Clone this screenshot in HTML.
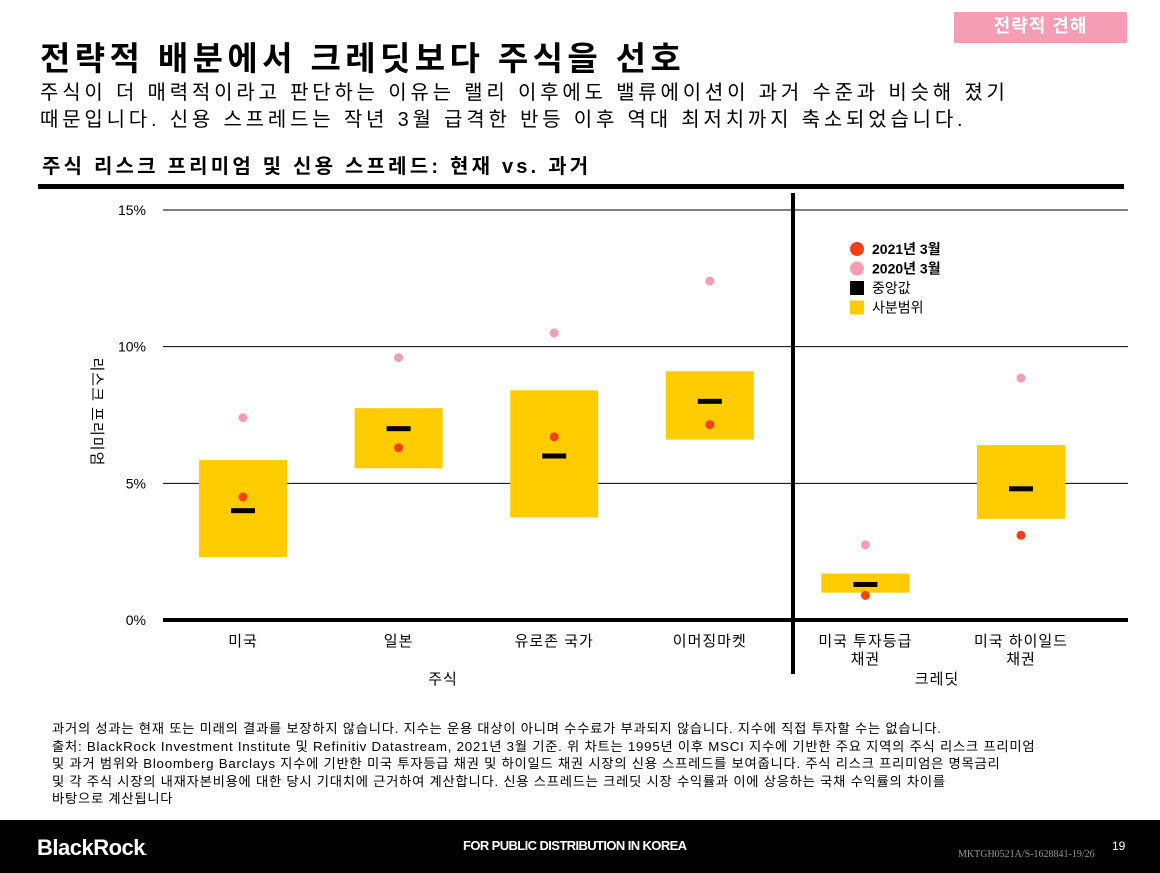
<!DOCTYPE html>
<html><head><meta charset="utf-8">
<style>
body{margin:0;width:1160px;height:873px;background:#fff;position:relative;overflow:hidden;font-family:"Liberation Sans","Noto Sans CJK KR",sans-serif;color:#000}
.a{position:absolute;white-space:nowrap}
</style></head><body>
<div class="a" style="left:954px;top:12px;width:173px;height:31px;background:#f59db4;color:#fff;font-size:18px;font-weight:bold;text-align:center;line-height:29px;letter-spacing:1px">전략적 견해</div>
<div class="a" style="left:40px;top:32px;font-size:33px;font-weight:bold;letter-spacing:4.4px">전략적 배분에서 크레딧보다 주식을 선호</div>
<div class="a" style="left:40px;top:80px;font-size:20px;line-height:27px;letter-spacing:3.8px">주식이 더 매력적이라고 판단하는 이유는 랠리 이후에도 밸류에이션이 과거 수준과 비슷해 졌기<br>때문입니다. 신용 스프레드는 작년 3월 급격한 반등 이후 역대 최저치까지 축소되었습니다.</div>
<div class="a" style="left:42px;top:150px;font-size:20px;font-weight:bold;letter-spacing:3.2px">주식 리스크 프리미엄 및 신용 스프레드: 현재 vs. 과거</div>
<div class="a" style="left:38px;top:184px;width:1086px;height:5px;background:#000"></div>
<svg class="a" style="left:0;top:0" width="1160" height="820">
<g id="g"></g>
</svg>
<div class="a" style="left:52px;top:720px;font-size:13.3px;line-height:17.5px;letter-spacing:0.75px">과거의 성과는 현재 또는 미래의 결과를 보장하지 않습니다. 지수는 운용 대상이 아니며 수수료가 부과되지 않습니다. 지수에 직접 투자할 수는 없습니다.<br>출처: BlackRock Investment Institute 및 Refinitiv Datastream, 2021년 3월 기준. 위 차트는 1995년 이후 MSCI 지수에 기반한 주요 지역의 주식 리스크 프리미엄<br>및 과거 범위와 Bloomberg Barclays 지수에 기반한 미국 투자등급 채권 및 하이일드 채권 시장의 신용 스프레드를 보여줍니다. 주식 리스크 프리미엄은 명목금리<br>및 각 주식 시장의 내재자본비용에 대한 당시 기대치에 근거하여 계산합니다. 신용 스프레드는 크레딧 시장 수익률과 이에 상응하는 국채 수익률의 차이를<br>바탕으로 계산됩니다</div>
<div class="a" style="left:0;top:820px;width:1160px;height:53px;background:#000">
<div class="a" style="left:37px;top:15px;color:#fff;font-size:22px;font-weight:bold;letter-spacing:-0.5px">BlackRock<span style="font-size:8px">.</span></div>
<div class="a" style="left:463px;top:18px;color:#fff;font-size:13px;font-weight:bold;letter-spacing:-0.6px">FOR PUBLIC DISTRIBUTION IN KOREA</div>
<div class="a" style="left:958px;top:29px;color:#999;font-size:10px;font-family:'Liberation Serif',serif">MKTGH0521A/S-1628841-19/26</div>
<div class="a" style="left:1112px;top:19px;color:#fff;font-size:12px">19</div>
</div>
<script>
const categories=["미국","일본","유로존 국가","이머징마켓","미국 투자등급\n채권","미국 하이일드\n채권"];
const q1=[2.3,5.55,3.75,6.6,1.0,3.7];
const q3=[5.85,7.75,8.4,9.1,1.7,6.4];
const median=[4.0,7.0,6.0,8.0,1.3,4.8];
const mar2021=[4.5,6.3,6.7,7.15,0.9,3.1];
const mar2020=[7.4,9.6,10.5,12.4,2.75,8.85];
const ticks=[0,5,10,15];
const tickLabels=["0%","5%","10%","15%"];
const NS="http://www.w3.org/2000/svg",g=document.getElementById('g');
const y=v=>620-v*(410/15);
const x=i=>243+i*155.6;
function mk(t,a){const e=document.createElementNS(NS,t);for(const k in a)e.setAttribute(k,a[k]);g.appendChild(e);return e;}
ticks.forEach((t,i)=>{
 const l=mk('line',{x1:163,x2:1128,y1:y(t),y2:y(t),stroke:'#000','stroke-width':t===0?4:1});
 
 
 const tx=mk('text',{x:146,y:y(t)+5,'text-anchor':'end','font-size':14});
 tx.textContent=tickLabels[i];
 
 
});
const d=mk('line',{x1:793,x2:793,y1:193,y2:674,stroke:'#000','stroke-width':4});


categories.forEach((c,i)=>{
 const b=mk('rect',{x:x(i)-44,y:y(q3[i]),width:88,height:y(q1[i])-y(q3[i]),fill:'#ffcc00'});
 
 
 const m=mk('rect',{x:x(i)-12,y:y(median[i])-2.5,width:24,height:5,fill:'#000'});
 
 
 const p1=mk('circle',{cx:x(i),cy:y(mar2020[i]),r:4.5,fill:'#f59db4'});
 
 
 const p2=mk('circle',{cx:x(i),cy:y(mar2021[i]),r:4.5,fill:'#ff4017'});
 
 
 c.split('\n').forEach((s,j)=>{
  const t=mk('text',{x:x(i),y:646+j*18,'text-anchor':'middle','font-size':15,'letter-spacing':1});
  t.textContent=s;
  
  
 });
});
[["주식",443],["크레딧",937]].forEach(([s,px])=>{
 const t=mk('text',{x:px,y:684,'text-anchor':'middle','font-size':15,'letter-spacing':1});
 t.textContent=s;
 
 
});
const yt=mk('text',{x:0,y:0,'text-anchor':'middle','font-size':15,'letter-spacing':1,transform:'translate(92,412) rotate(90)'});
yt.textContent="리스크 프리미엄";


const leg=[["circle","#ff4017","2021년 3월"],["circle","#f59db4","2020년 3월"],["rect","#000","중앙값"],["rect","#ffcc00","사분범위"]];
leg.forEach((l,i)=>{
 const cy=249+i*19.5;
 const s=l[0]==='circle'?mk('circle',{cx:857,cy:cy,r:7,fill:l[1]}):mk('rect',{x:850,y:cy-7,width:14,height:14,fill:l[1]});
 
 
 const t=mk('text',{x:872,y:cy+5,'font-size':14,'font-weight':i<2?'bold':'normal'});
 t.textContent=l[2];
 
 
});
</script>
</body></html>
